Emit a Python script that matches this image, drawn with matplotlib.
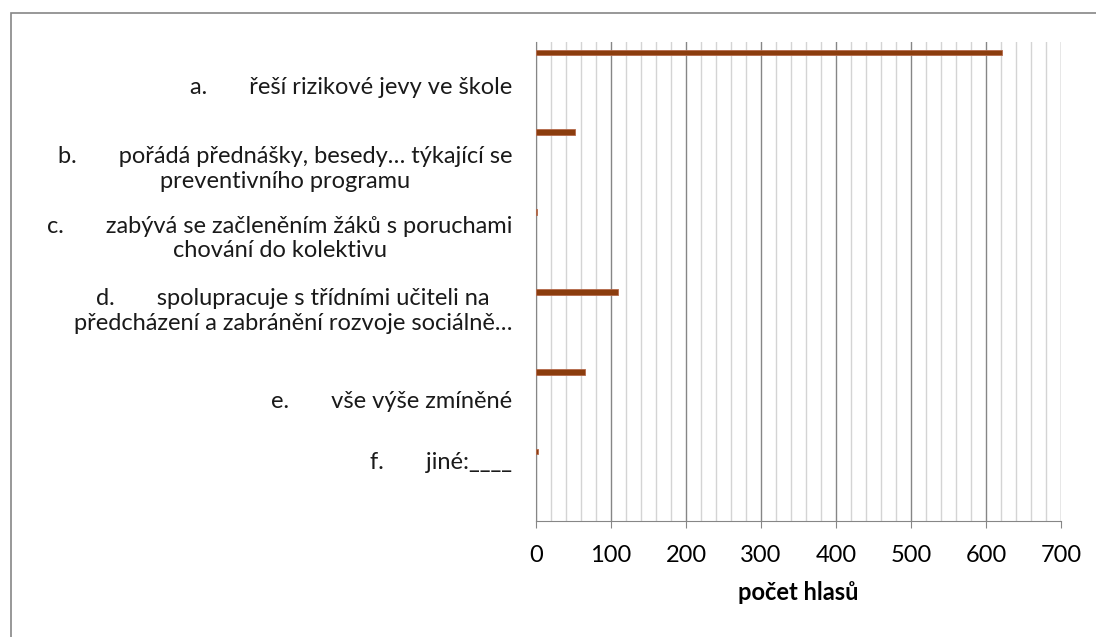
import matplotlib.pyplot as plt
from matplotlib.patches import Rectangle
from matplotlib.ticker import MultipleLocator
import matplotlib.transforms as mtransforms

plt.rcParams['font.family'] = ['Lato', 'DejaVu Sans']

labels = [
    "a.       řeší rizikové jevy ve škole",
    "b.       pořádá přednášky, besedy… týkající se\npreventivního programu",
    "c.       zabývá se začleněním žáků s poruchami\nchování do kolektivu",
    "d.       spolupracuje s třídními učiteli na\npředcházení a zabránění rozvoje sociálně…",
    "e.       vše výše zmíněné",
    "f.       jiné:____",
]
votes = [622, 52, 1, 110, 65, 3]
# vertical nudge of each label inside its band (excel wraps them unevenly)
label_shift = [0.07, 0.09, -0.04, -0.13, 0.0, -0.23]

fig = plt.figure(figsize=(10.96, 6.37), dpi=100)
ax = fig.add_axes([0.489, 0.182, 0.479, 0.752])

# bars sit near the top of each category band (excel clustered look)
pos = [i - 0.37 for i in range(len(votes))]
ax.barh(pos, votes, height=0.07, color="#8B3D0E", edgecolor="#b5694a", linewidth=0.6, zorder=3)

ax.set_ylim(len(votes) - 0.5, -0.5)
ax.set_xlim(0, 700)
ax.xaxis.set_major_locator(MultipleLocator(100))
ax.xaxis.set_minor_locator(MultipleLocator(20))
ax.grid(which="major", axis="x", color="#868686", linewidth=1, zorder=1)
ax.grid(which="minor", axis="x", color="#d4d4d4", linewidth=1, zorder=0)
ax.tick_params(axis="x", which="major", length=5, color="#868686", labelsize=17, pad=12)
ax.tick_params(axis="x", which="minor", length=0)

ax.set_yticks([])
trans = mtransforms.blended_transform_factory(ax.transAxes, ax.transData)
for i, lab in enumerate(labels):
    ax.text(-0.045, i + label_shift[i], lab, transform=trans, fontsize=17,
            ha="right", va="center", multialignment="center", color="#1a1a1a")

for s in ["top", "right"]:
    ax.spines[s].set_visible(False)
ax.spines["left"].set_color("#868686")
ax.spines["bottom"].set_color("#868686")

ax.set_xlabel("počet hlasů", fontsize=17, fontweight="bold", labelpad=11)

fig.patches.append(Rectangle((0.010, -0.05), 1.2, 1.03, transform=fig.transFigure,
                             fill=False, edgecolor="#868686", linewidth=1.2))

fig.savefig("out.png", dpi=100)
